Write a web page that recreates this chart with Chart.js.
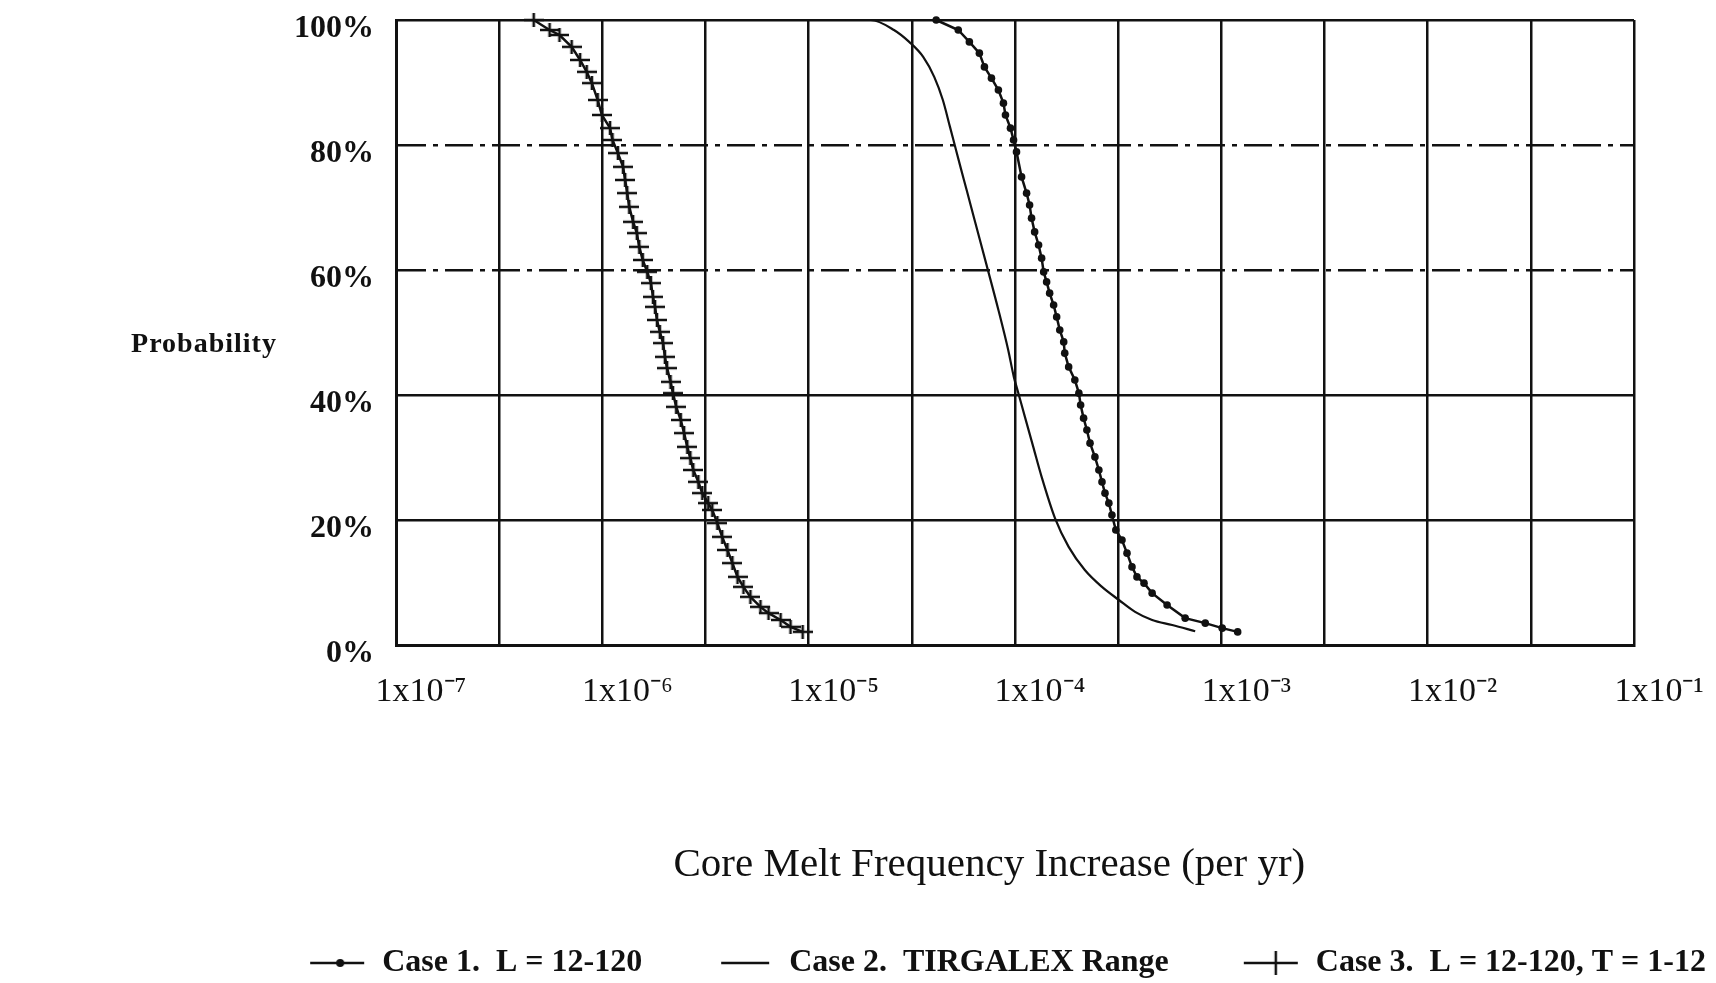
<!DOCTYPE html>
<html>
<head>
<meta charset="utf-8">
<style>
html,body{margin:0;padding:0;background:#fff;}
#wrap{width:1716px;height:983px;}
</style>
<script src="https://cdn.jsdelivr.net/npm/chart.js@4/dist/chart.umd.min.js"></script>
</head>
<body>
<div id="wrap"><canvas id="c" width="1716" height="983"></canvas></div>
<script>
// ---- Data ----
const case1X = [4.15e-5, 5.31e-5, 6.01e-5, 6.72e-5, 7.11e-5, 7.69e-5, 8.31e-5, 8.79e-5, 8.99e-5, 9.51e-5,
  9.84e-5, 1.017e-4, 1.076e-4, 1.138e-4, 1.177e-4, 1.203e-4, 1.245e-4, 1.301e-4, 1.346e-4, 1.377e-4,
  1.423e-4, 1.472e-4, 1.539e-4, 1.592e-4, 1.648e-4, 1.722e-4, 1.742e-4, 1.82e-4, 1.95e-4, 2.04e-4,
  2.08e-4, 2.15e-4, 2.23e-4, 2.31e-4, 2.44e-4, 2.55e-4, 2.64e-4, 2.73e-4, 2.85e-4, 2.95e-4,
  3.08e-4, 3.30e-4, 3.49e-4, 3.69e-4, 3.90e-4, 4.22e-4, 4.62e-4, 5.46e-4, 6.68e-4, 8.36e-4, 1.01e-3, 1.20e-3];
const case1Y = [100, 98.4, 96.5, 94.7, 92.5, 90.7, 88.8, 86.7, 84.8, 82.7,
  80.8, 78.9, 74.9, 72.3, 70.4, 68.3, 66.1, 64, 61.9, 59.7,
  58.1, 56.3, 54.4, 52.5, 50.4, 48.5, 46.7, 44.5, 42.4, 40.3,
  38.4, 36.3, 34.4, 32.3, 30.1, 28, 26.1, 24.3, 22.7, 20.8,
  18.4, 16.8, 14.7, 12.5, 10.9, 9.9, 8.3, 6.4, 4.3, 3.5, 2.7, 2.1];

const case2X = [1.51e-5, 2.00e-5, 2.59e-5, 3.07e-5, 3.59e-5, 4.06e-5, 4.47e-5, 4.84e-5, 5.03e-5, 5.44e-5,
  5.83e-5, 6.37e-5, 7.24e-5, 8.31e-5, 9.27e-5, 9.87e-5, 1.036e-4, 1.117e-4, 1.226e-4, 1.346e-4,
  1.562e-4, 1.82e-4, 2.18e-4, 2.64e-4, 3.19e-4, 3.82e-4, 4.62e-4, 5.78e-4, 7.47e-4];
const case2Y = [100, 100, 98.4, 96.5, 94.1, 90.9, 87.2, 82.9, 80.8, 76.5,
  72.8, 68, 61.1, 53.6, 47.2, 42.9, 40.4, 36.5, 31.7, 26.9,
  20.3, 15.7, 12, 9.3, 7.2, 5.3, 4.0, 3.2, 2.2];

const case3X = [4.65e-7, 5.55e-7, 6.2e-7, 7.1e-7, 7.8e-7, 8.4e-7, 8.9e-7, 9.5e-7, 9.95e-7, 1.09e-6,
  1.12e-6, 1.19e-6, 1.26e-6, 1.29e-6, 1.32e-6, 1.35e-6, 1.41e-6, 1.47e-6, 1.51e-6, 1.57e-6,
  1.65e-6, 1.72e-6, 1.76e-6, 1.80e-6, 1.84e-6, 1.90e-6, 1.97e-6, 2.01e-6, 2.06e-6, 2.14e-6,
  2.20e-6, 2.28e-6, 2.40e-6, 2.49e-6, 2.58e-6, 2.67e-6, 2.76e-6, 2.92e-6, 3.05e-6, 3.26e-6,
  3.41e-6, 3.61e-6, 3.81e-6, 4.04e-6, 4.27e-6, 4.52e-6, 4.83e-6, 5.22e-6, 5.84e-6, 6.39e-6,
  7.31e-6, 8.17e-6, 9.35e-6];
const case3Y = [100, 98.4, 97.6, 95.7, 93.6, 91.7, 89.9, 87.2, 84.8, 82.7,
  80.8, 78.7, 76.5, 74.4, 72.3, 70.1, 67.7, 65.9, 63.7, 61.6,
  59.7, 57.9, 55.7, 54.1, 52.0, 50.1, 48.3, 46.1, 44.3, 42.1,
  40.3, 38.1, 36.0, 33.9, 31.7, 29.9, 28.0, 26.1, 24.3, 22.7,
  21.6, 19.5, 17.3, 15.2, 13.1, 10.9, 9.3, 7.7, 6.1, 5.1,
  4.0, 2.9, 2.1];

const xGridValues = [1e-7, 3.162e-7, 1e-6, 3.162e-6, 1e-5, 3.162e-5, 1e-4, 3.162e-4, 1e-3, 3.162e-3, 1e-2, 3.162e-2, 1e-1];
const xTickLabels = ['1x10⁻⁷', '1x10⁻⁶', '1x10⁻⁵', '1x10⁻⁴', '1x10⁻³', '1x10⁻²', '1x10⁻¹'];
const yTickValues = [0, 20, 40, 60, 80, 100];
const legendLabels = ['Case 1.  L = 12-120', 'Case 2.  TIRGALEX Range', 'Case 3.  L = 12-120, T = 1-12'];
const yAxisLabel = 'Probability';
const xAxisLabel = 'Core Melt Frequency Increase (per yr)';

// ---- Styles ----
const INK = '#111';
function makeCross(w, h, lw) {
  const c = document.createElement('canvas'); c.width = w; c.height = h;
  const g = c.getContext('2d'); g.strokeStyle = INK; g.lineWidth = lw;
  g.beginPath(); g.moveTo(0, h / 2); g.lineTo(w, h / 2); g.moveTo(w / 2, 0); g.lineTo(w / 2, h); g.stroke();
  return c;
}
const ICON_W = 121, ICON_H = 30, ICON_GAP = 65;
function makeIcon(kind) {
  const c = document.createElement('canvas'); c.width = ICON_W; c.height = ICON_H;
  const g = c.getContext('2d'); g.strokeStyle = INK; g.fillStyle = INK; g.lineWidth = 2.5;
  const y = ICON_H / 2;
  if (kind === 0) {
    g.beginPath(); g.moveTo(ICON_GAP, y); g.lineTo(ICON_W - 2, y); g.stroke();
    g.beginPath(); g.arc(ICON_GAP + 30, y, 4, 0, Math.PI * 2); g.fill();
  } else if (kind === 1) {
    g.beginPath(); g.moveTo(ICON_GAP + 4, y); g.lineTo(ICON_GAP + 52, y); g.stroke();
  } else {
    g.beginPath(); g.moveTo(ICON_GAP, y); g.lineTo(ICON_W - 2, y); g.stroke();
    g.beginPath(); g.moveTo(ICON_GAP + 32, y - 12); g.lineTo(ICON_GAP + 32, y + 12); g.stroke();
  }
  return c;
}
const legendIcons = [makeIcon(0), makeIcon(1), makeIcon(2)];
const crossImg = makeCross(20, 14, 2.6);

const toPts = (xs, ys) => xs.map((x, i) => ({ x: x, y: ys[i] }));

const yTitlePlugin = {
  id: 'yTitle',
  afterDraw(chart) {
    const ctx = chart.ctx;
    ctx.save();
    ctx.font = 'bold 28px "Liberation Serif"';
    ctx.fillStyle = INK;
    ctx.textAlign = 'center';
    ctx.textBaseline = 'middle';
    try { ctx.letterSpacing = '1px'; } catch (e) {}
    const ya = chart.scales.y;
    ctx.fillText(yAxisLabel, 204, ya.getPixelForValue(48));
    ctx.restore();
  }
};

new Chart(document.getElementById('c'), {
  type: 'line',
  data: {
    datasets: [
      { label: legendLabels[0], data: toPts(case1X, case1Y), borderColor: INK, backgroundColor: INK,
        borderWidth: 2.5, pointStyle: 'circle', pointRadius: 3.8, pointBorderWidth: 0, pointBackgroundColor: INK, clip: false },
      { label: legendLabels[1], data: toPts(case2X, case2Y), borderColor: INK, borderWidth: 2.2,
        pointRadius: 0, cubicInterpolationMode: 'monotone', clip: false },
      { label: legendLabels[2], data: toPts(case3X, case3Y), borderColor: INK, borderWidth: 2.5,
        pointStyle: crossImg, pointRadius: 6, clip: false }
    ]
  },
  options: {
    responsive: false,
    animation: false,
    devicePixelRatio: 1,
    layout: { padding: { top: 0, right: 0, bottom: -6, left: 0 } },
    plugins: {
      tooltip: { enabled: false },
      legend: {
        position: 'bottom',
        align: 'end',
        labels: {
          usePointStyle: true,
          pointStyleWidth: ICON_W,
          boxHeight: 32,
          padding: 10,
          color: INK,
          font: { family: 'Liberation Serif', size: 32, weight: 'bold' },
          generateLabels: () => legendLabels.map((t, i) => ({
            text: t, pointStyle: legendIcons[i], fillStyle: INK, strokeStyle: INK,
            lineWidth: 0, hidden: false, datasetIndex: i, fontColor: INK
          }))
        }
      }
    },
    scales: {
      x: {
        type: 'logarithmic',
        min: 1e-7,
        max: 1e-1,
        afterBuildTicks: s => { s.ticks = xGridValues.map(v => ({ value: v })); },
        afterFit: s => { s.paddingRight = 82; },
        grid: { color: INK, lineWidth: 2.5, drawTicks: false },
        border: { display: true, color: INK, width: 3 },
        ticks: {
          autoSkip: false, maxRotation: 0, minRotation: 0,
          padding: 27, labelOffset: 25, color: INK,
          font: { family: 'Liberation Serif', size: 34 },
          callback: (v) => {
            const l = Math.log10(v), e = Math.round(l);
            if (Math.abs(l - e) > 0.01) return '';
            return xTickLabels[e + 7];
          }
        },
        title: {
          display: true, text: xAxisLabel + '     ', color: INK,
          font: { family: 'Liberation Serif', size: 41 },
          padding: { top: 101, bottom: 47 }
        }
      },
      y: {
        type: 'linear',
        min: 0,
        max: 100,
        afterBuildTicks: s => { s.ticks = yTickValues.map(v => ({ value: v })); },
        afterFit: s => { s.width = 396; s.paddingTop = 20; s.paddingBottom = 0; },
        grid: { color: INK, lineWidth: 2.5, drawTicks: false },
        border: {
          display: true, color: INK, width: 3,
          dash: (c) => (c.tick && (c.tick.value === 80 || c.tick.value === 60)) ? [28, 7, 5, 7] : []
        },
        ticks: {
          padding: 22, labelOffset: 9, color: INK,
          font: { family: 'Liberation Serif', size: 32, weight: 'bold' },
          callback: v => v + '%'
        }
      }
    }
  },
  plugins: [yTitlePlugin]
});
</script>
</body>
</html>
